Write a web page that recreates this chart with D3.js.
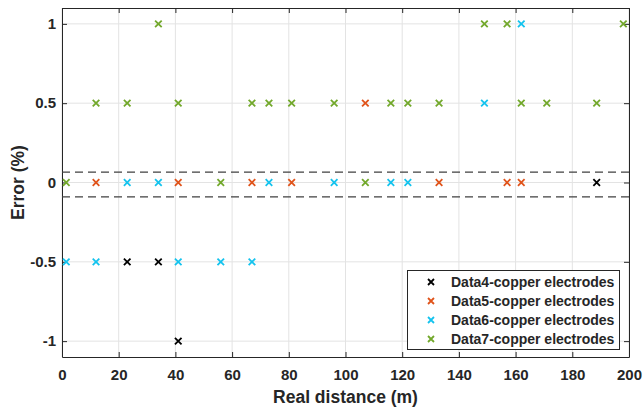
<!DOCTYPE html>
<html><head><meta charset="utf-8">
<script src="https://cdn.jsdelivr.net/npm/d3@7"></script>
<style>body{margin:0;background:#fff}svg{display:block}text{font-family:Arial,"Liberation Sans",sans-serif;font-weight:bold;fill:#262626}</style>
</head><body><div id="chart"></div>
<script>
const seriesNames = ["Data4-copper electrodes","Data5-copper electrodes","Data6-copper electrodes","Data7-copper electrodes"];
const seriesColors = ["#000000","#E0531A","#14C3EE","#72A82B"];
const data4 = [[23,-0.5],[34,-0.5],[41,-1],[188.6,0]];
const data5 = [[12,0],[41,0],[67,0],[81,0],[107,0.5],[133,0],[157,0],[162,0]];
const data6 = [[1.5,-0.5],[12,-0.5],[23,0],[34,0],[41,-0.5],[56,-0.5],[67,-0.5],[73,0],[96,0],[116,0],[122,0],[149,0.5],[162,1]];
const data7 = [[1.5,0],[12,0.5],[23,0.5],[34,1],[41,0.5],[56,0],[67,0.5],[73,0.5],[81,0.5],[96,0.5],[107,0],[116,0.5],[122,0.5],[133,0.5],[149,1],[157,1],[162,0.5],[171,0.5],[188.6,0.5],[198,1]];
const allSeries = [data4,data5,data6,data7];
const xTicks = [0,20,40,60,80,100,120,140,160,180,200];
const yTicks = [-1,-0.5,0,0.5,1];
const yTickLabels = ["-1","-0.5","0","0.5","1"];
const thresholds = [0.065,-0.09];
const xLabel = "Real distance (m)", yLabel = "Error (%)";

const W=644,H=412, L=62,R=629,T=8,B=357;
const svg=d3.select("#chart").append("svg").attr("width",W).attr("height",H);
const x=d3.scaleLinear().domain([0,200]).range([L,R]);
const y=d3.scaleLinear().domain([-1.1,1.1]).range([B,T]);
const axisCol="#262626";

// grid
svg.append("g").selectAll("line").data(xTicks).join("line")
  .attr("x1",d=>x(d)).attr("x2",d=>x(d)).attr("y1",T).attr("y2",B)
  .attr("stroke","#e3e3e3").attr("stroke-width",1);
svg.append("g").selectAll("line").data(yTicks).join("line")
  .attr("y1",d=>y(d)).attr("y2",d=>y(d)).attr("x1",L).attr("x2",R)
  .attr("stroke","#e3e3e3").attr("stroke-width",1);

// axes
const ax=d3.axisBottom(x).tickValues(xTicks).tickSizeInner(-5).tickSizeOuter(0).tickPadding(12);
const gx=svg.append("g").attr("transform",`translate(0,${B})`).call(ax);
const ay=d3.axisLeft(y).tickValues(yTicks).tickFormat((d,i)=>yTickLabels[i]).tickSizeInner(-5).tickSizeOuter(0).tickPadding(6);
const gy=svg.append("g").attr("transform",`translate(${L},0)`).call(ay);
const gt=svg.append("g").attr("transform",`translate(0,${T})`).call(d3.axisTop(x).tickValues(xTicks).tickSizeInner(-5).tickSizeOuter(0).tickFormat(""));
const gr=svg.append("g").attr("transform",`translate(${R},0)`).call(d3.axisRight(y).tickValues(yTicks).tickSizeInner(-5).tickSizeOuter(0).tickFormat(""));
[gx,gy,gt,gr].forEach(g=>{
  g.select(".domain").attr("stroke",axisCol).attr("stroke-width",1);
  g.selectAll(".tick line").attr("stroke",axisCol);
  g.selectAll("text").attr("font-size",15).attr("font-family","Arial, 'Liberation Sans', sans-serif").attr("font-weight","bold").attr("fill",axisCol);
});
gx.selectAll("text").attr("dy","0.71em");

// threshold dashed lines
svg.append("g").selectAll("line").data(thresholds).join("line")
  .attr("x1",L).attr("x2",R).attr("y1",d=>y(d)).attr("y2",d=>y(d))
  .attr("stroke","#404040").attr("stroke-width",1.3).attr("stroke-dasharray","8,5");

// markers
function cross(g,cx,cy,s,col){
  g.append("path").attr("d",`M${cx-s},${cy-s}L${cx+s},${cy+s}M${cx-s},${cy+s}L${cx+s},${cy-s}`)
   .attr("stroke",col).attr("stroke-width",1.8).attr("fill","none");
}
allSeries.forEach((s,i)=>{
  const g=svg.append("g");
  s.forEach(d=>cross(g,x(d[0]),y(d[1]),3.3,seriesColors[i]));
});

// legend
const lg=svg.append("g");
lg.append("rect").attr("x",407.5).attr("y",270.5).attr("width",212).attr("height",79)
  .attr("fill","#fff").attr("stroke",axisCol).attr("stroke-width",1);
seriesNames.forEach((n,i)=>{
  const cy=282+i*19;
  cross(lg,431,cy,3,seriesColors[i]);
  lg.append("text").attr("x",451).attr("y",cy).attr("dy","0.36em").attr("font-size",14).text(n);
});

// axis labels
svg.append("text").attr("x",(L+R)/2).attr("y",403).attr("text-anchor","middle").attr("font-size",17.5).text(xLabel);
svg.append("text").attr("transform",`translate(24,${(T+B)/2}) rotate(-90)`).attr("text-anchor","middle").attr("font-size",17.5).text(yLabel);
</script></body></html>
